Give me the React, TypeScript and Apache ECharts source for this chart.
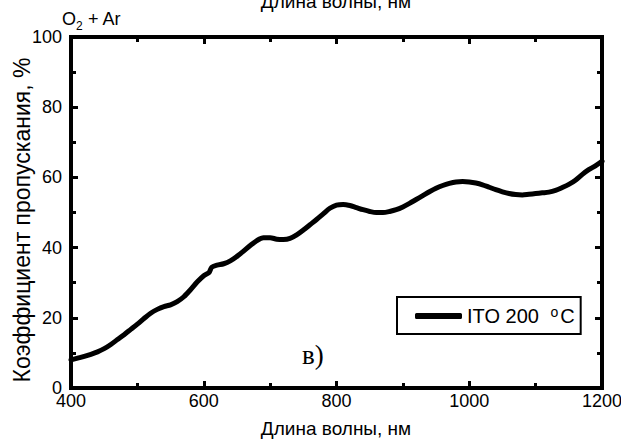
import React, { useEffect, useRef } from "react";
import * as echarts from "echarts";

const wavelengths = [
  400, 410, 420, 430, 440, 450, 460, 470, 480, 490, 500, 510, 520, 530, 540, 550, 560, 570, 580, 590,
  600, 608, 612, 620, 630, 640, 650, 660, 670, 680, 690, 700, 710, 720, 730, 740, 750, 760, 770, 780,
  790, 800, 810, 820, 830, 840, 850, 860, 870, 880, 890, 900, 910, 920, 930, 940, 950, 960, 970, 980,
  990, 1000, 1010, 1020, 1030, 1040, 1050, 1060, 1070, 1080, 1090, 1100, 1110, 1120, 1130, 1140, 1150,
  1160, 1170, 1180, 1190, 1200,
];
const transmission = [
  8.0, 8.5, 9.0, 9.6, 10.3, 11.2, 12.4, 13.8, 15.2, 16.7, 18.2, 19.8, 21.3, 22.4, 23.2, 23.7, 24.6, 26.0, 28.0, 30.2,
  32.0, 32.9, 34.4, 35.0, 35.4, 36.2, 37.5, 39.0, 40.6, 42.0, 42.8, 42.8, 42.4, 42.3, 42.6, 43.6, 45.0, 46.5, 48.0, 49.6,
  51.2, 52.1, 52.3, 52.0, 51.4, 50.8, 50.3, 50.0, 50.0, 50.3, 50.8, 51.6, 52.6, 53.7, 54.8, 55.9, 56.9, 57.7, 58.3, 58.7,
  58.8, 58.7, 58.4, 57.9, 57.2, 56.5, 55.9, 55.4, 55.1, 55.0, 55.2, 55.4, 55.6, 55.8, 56.3, 57.1, 58.0,
  59.2, 60.8, 62.2, 63.3, 64.6,
];
const seriesName = "ITO 200 °C";
const xTitle = "Длина волны, нм";
const yTitle = "Коэффициент пропускания, %";

const FONT = "'Liberation Sans', Arial, sans-serif";

export default function App() {
  const ref = useRef<HTMLDivElement>(null);
  useEffect(() => {
    if (!ref.current) return;
    const chart = echarts.init(ref.current, null, { renderer: "svg" });
    const mk = () => ({
      axisLine: { show: true, onZero: false, lineStyle: { color: "#000", width: 4 } },
      axisTick: { show: true, inside: true, length: 7, lineStyle: { color: "#000", width: 3 } },
      minorTick: { show: true, splitNumber: 2, length: 5, lineStyle: { color: "#000", width: 3 } },
      splitLine: { show: false },
    });
    chart.setOption({
      animation: false,
      grid: {
        left: 71,
        right: 19,
        top: 37,
        bottom: 55,
        outerBoundsMode: "none",
        show: true,
        borderColor: "#000",
        borderWidth: 4,
        backgroundColor: "transparent",
      },
      xAxis: [
        {
          type: "value",
          min: 400,
          max: 1200,
          interval: 200,
          position: "bottom",
          ...mk(),
          axisLabel: { color: "#000", fontSize: 18, fontFamily: FONT, margin: 4, formatter: (v: number) => String(v) },
        },
        {
          type: "value",
          min: 400,
          max: 1200,
          interval: 200,
          position: "top",
          ...mk(),
          axisLabel: { show: false },
        },
      ],
      yAxis: [
        {
          type: "value",
          min: 0,
          max: 100,
          interval: 20,
          position: "left",
          ...mk(),
          axisLabel: { color: "#000", fontSize: 18, fontFamily: FONT, margin: 9 },
        },
        {
          type: "value",
          min: 0,
          max: 100,
          interval: 20,
          position: "right",
          ...mk(),
          axisLabel: { show: false },
        },
      ],
      legend: {
        left: 397,
        top: 297,
        orient: "horizontal",
        borderColor: "#000",
        borderWidth: 2,
        borderRadius: 0,
        padding: [8, 6, 8, 18],
        itemWidth: 47,
        itemHeight: 6,
        itemGap: 0,
        data: [{ name: seriesName, icon: "roundRect" }],
        formatter: () => "ITO 200 {sup|o}C",
        textStyle: {
          color: "#000",
          fontSize: 20,
          fontFamily: FONT,
          rich: {
            sup: { fontSize: 14, fontFamily: FONT, color: "#000", verticalAlign: "top", padding: [0, 2, 8, 6] },
          },
        },
      },
      series: [
        {
          name: seriesName,
          type: "line",
          data: wavelengths.map((w, i) => [w, transmission[i]]),
          symbol: "none",
          smooth: 0.3,
          lineStyle: { color: "#000", width: 5, cap: "round", join: "round" },
          itemStyle: { color: "#000" },
        },
      ],
      graphic: [
        {
          type: "text",
          x: 336,
          y: -8,
          style: { text: xTitle, fontSize: 19, fontFamily: FONT, fill: "#000", align: "center", verticalAlign: "top" },
        },
        {
          type: "text",
          x: 336,
          y: 419,
          style: { text: xTitle, fontSize: 19, fontFamily: FONT, fill: "#000", align: "center", verticalAlign: "top" },
        },
        {
          type: "text",
          x: 22,
          y: 220,
          rotation: Math.PI / 2,
          style: { text: yTitle, fontSize: 23, fontFamily: FONT, fill: "#000", align: "center", verticalAlign: "middle" },
        },
        {
          type: "text",
          left: 62,
          top: 10,
          style: { text: "O", fontSize: 18, fontFamily: FONT, fill: "#000" },
        },
        {
          type: "text",
          left: 76,
          top: 20,
          style: { text: "2", fontSize: 12, fontFamily: FONT, fill: "#000" },
        },
        {
          type: "text",
          left: 88,
          top: 10,
          style: { text: "+ Ar", fontSize: 18, fontFamily: FONT, fill: "#000" },
        },
        {
          type: "text",
          left: 302,
          top: 341,
          style: { text: "в)", fontSize: 27, fontFamily: "'Liberation Serif', 'DejaVu Serif', serif", fill: "#000" },
        },
      ],
    });
    return () => chart.dispose();
  }, []);
  return <div ref={ref} style={{ position: "absolute", left: 0, top: 0, width: 621, height: 443, background: "#fff" }} />;
}
